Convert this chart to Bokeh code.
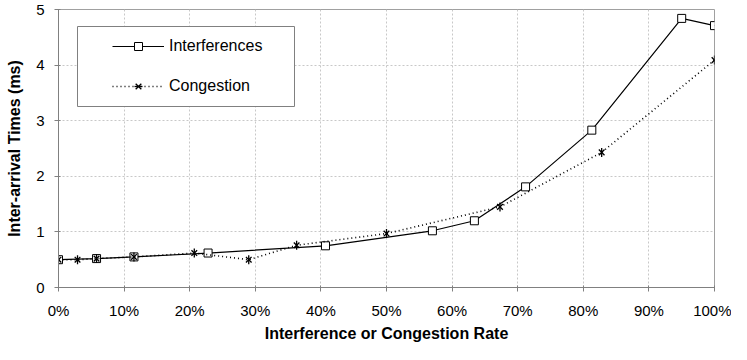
import math
from bokeh.plotting import figure
from bokeh.models import (Legend, LegendItem, BoxAnnotation, NumeralTickFormatter,
                          FixedTicker, Range1d)
from bokeh.embed import file_html
from bokeh.resources import INLINE

# Data (x as fraction of rate, y in ms)
interf_x = [0.0, 0.058, 0.115, 0.228, 0.407, 0.570, 0.634, 0.712, 0.813, 0.950, 1.0]
interf_y = [0.50, 0.52, 0.55, 0.62, 0.75, 1.02, 1.20, 1.81, 2.83, 4.84, 4.71]
cong_x = [0.0, 0.029, 0.058, 0.115, 0.207, 0.290, 0.363, 0.500, 0.673, 0.828, 1.0]
cong_y = [0.50, 0.50, 0.52, 0.55, 0.62, 0.50, 0.76, 0.97, 1.45, 2.43, 4.09]
x_ticks = [0.0, 0.1, 0.2, 0.3, 0.4, 0.5, 0.6, 0.7, 0.8, 0.9, 1.0]
y_ticks = [0, 1, 2, 3, 4, 5]

FONT = "Liberation Sans"

p = figure(width=731, height=344, x_range=Range1d(0, 1), y_range=Range1d(0, 5),
           output_backend="svg", toolbar_location=None,
           min_border_left=58, min_border_right=17, min_border_top=9, min_border_bottom=57)
p.background_fill_color = "white"
p.outline_line_color = "#a0a0a0"

p.xaxis.ticker = FixedTicker(ticks=x_ticks)
p.xaxis.formatter = NumeralTickFormatter(format="0%")
p.yaxis.ticker = FixedTicker(ticks=y_ticks)
p.axis.minor_tick_line_color = None
p.axis.axis_line_color = "#808080"
p.axis.major_tick_line_color = "#808080"
p.axis.major_tick_in = 2
p.axis.major_tick_out = 4
p.axis.major_label_text_font = FONT
p.axis.major_label_text_font_size = "15px"
p.axis.major_label_text_color = "black"
p.axis.axis_label_text_font = FONT
p.axis.axis_label_text_font_size = "16px"
p.axis.axis_label_text_font_style = "bold"
p.axis.axis_label_text_color = "black"
p.xaxis.axis_label = "Interference or Congestion Rate"
p.yaxis.axis_label = "Inter-arrival Times (ms)"
p.xaxis.major_label_standoff = 10
p.xaxis.axis_label_standoff = 3
p.yaxis.major_label_standoff = 10
p.yaxis.axis_label_standoff = 10

p.grid.grid_line_color = "#c8c8c8"
p.grid.grid_line_dash = "2 2"
p.grid.grid_line_width = 1

r1 = p.line(interf_x, interf_y, line_color="black", line_width=1.2)
s1 = p.scatter(interf_x, interf_y, marker="square", size=8, line_color="black",
               fill_color="white", line_width=1)
r2 = p.line(cong_x, cong_y, line_color="black", line_width=1.6, line_dash="1 3")
s2 = p.scatter(cong_x, cong_y, marker="x", size=8, line_color="black", line_width=1.3)
s3 = p.scatter(cong_x, cong_y, marker="dash", angle=math.pi / 2, size=9,
               line_color="black", line_width=1.3)

box = BoxAnnotation(left=19, right=236, top=261, bottom=181,
                    left_units="screen", right_units="screen",
                    top_units="screen", bottom_units="screen",
                    fill_color="white", fill_alpha=1.0,
                    line_color="#808080", line_width=1, line_alpha=1.0)
p.add_layout(box)

legend = Legend(items=[LegendItem(label="Interferences", renderers=[r1, s1]),
                       LegendItem(label="Congestion", renderers=[r2, s2, s3])],
                location=(54, 191), padding=0, margin=0,
                border_line_color=None, background_fill_alpha=0,
                glyph_width=52, glyph_height=20, label_height=20, spacing=20,
                label_standoff=5, label_text_font=FONT, label_text_font_size="16px",
                label_text_color="black")
p.add_layout(legend)

open("out.html", "w").write(file_html(p, INLINE))
